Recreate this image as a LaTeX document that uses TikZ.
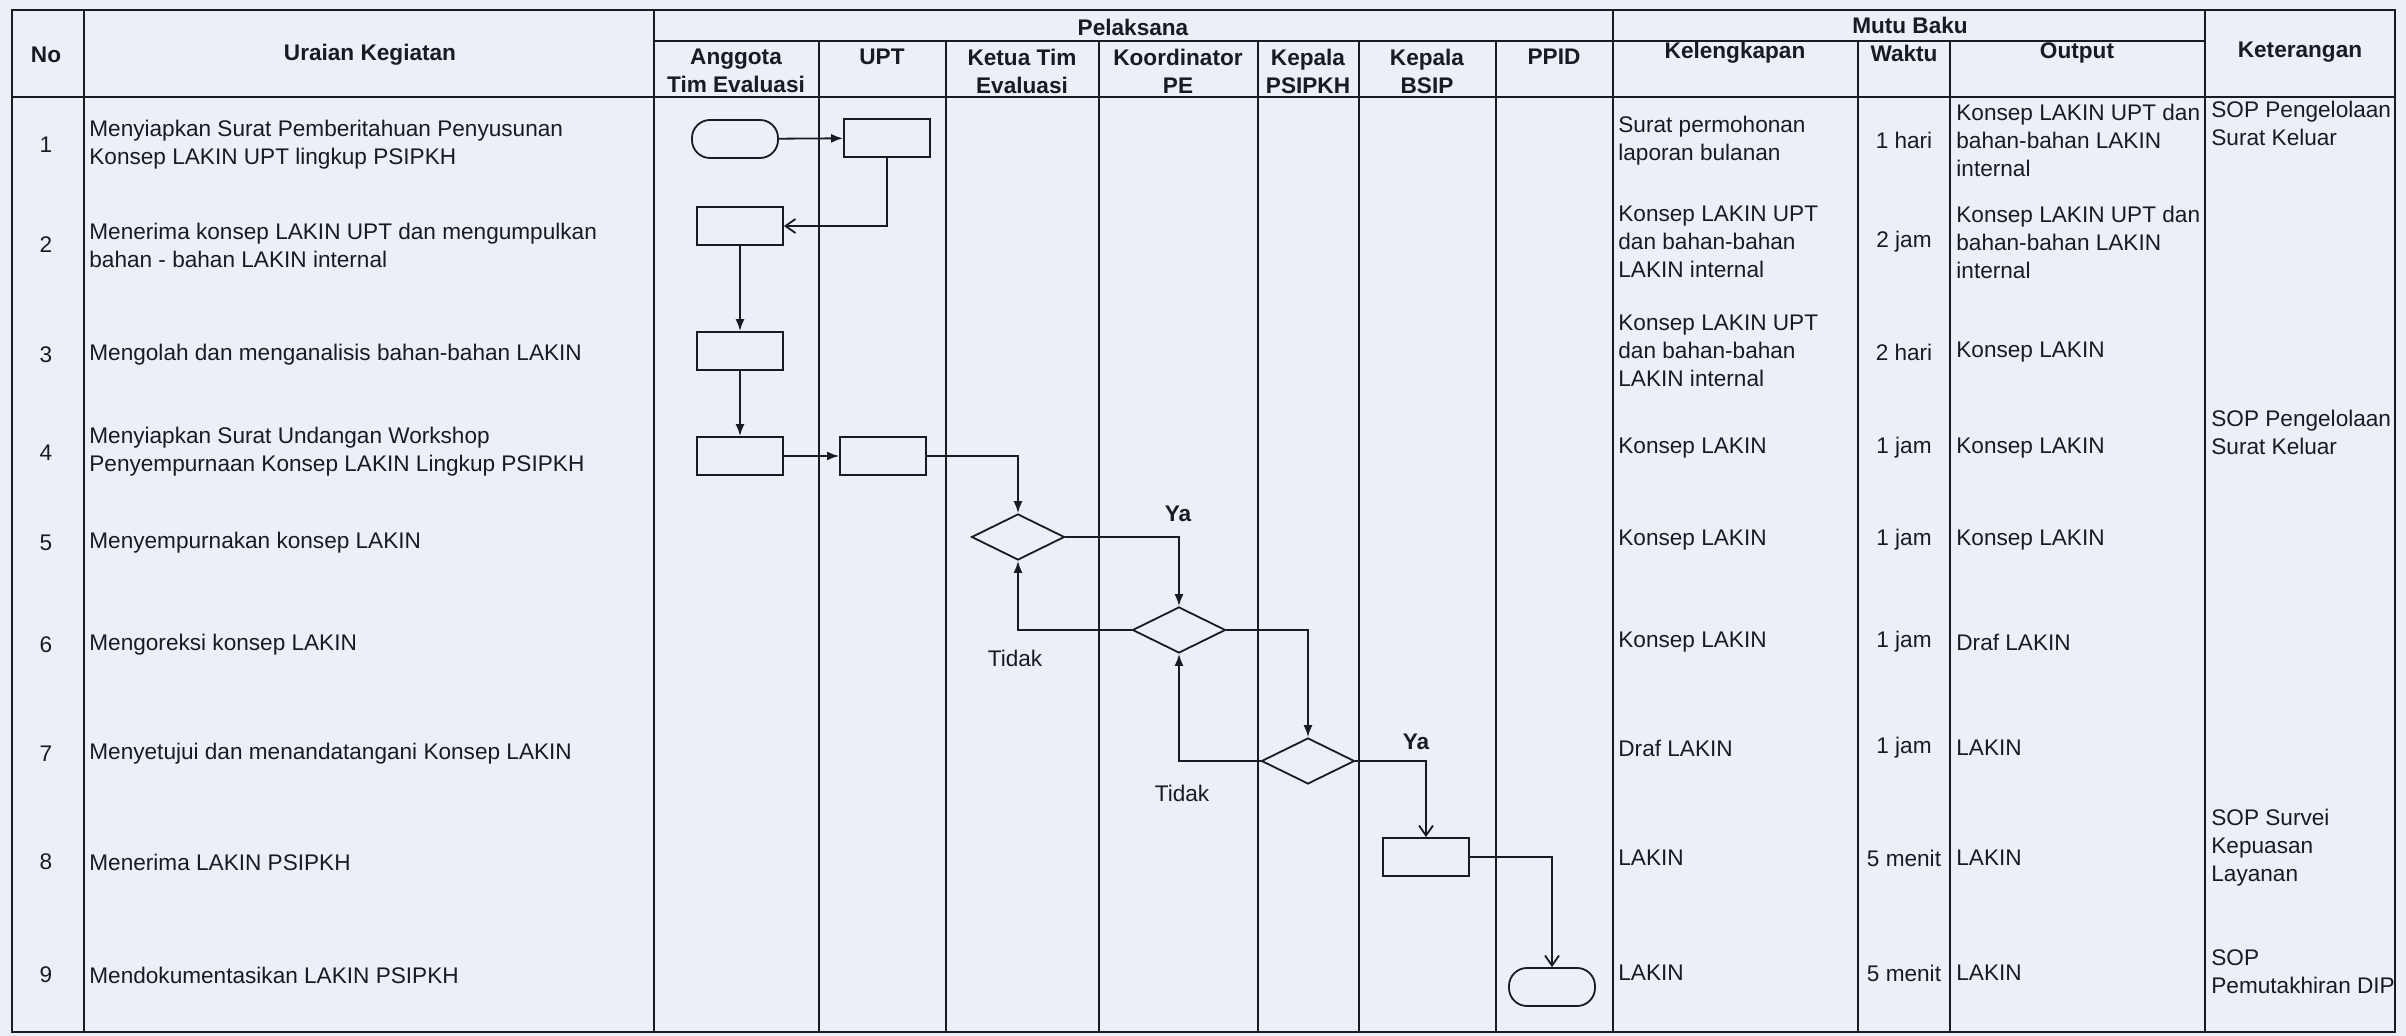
\documentclass[tikz,border=0pt]{standalone}
\usepackage{fontspec}
\setmainfont{Liberation Sans}
\usepackage{tikz}
\usetikzlibrary{arrows.meta,shapes.geometric,positioning}

\definecolor{paper}{RGB}{236,239,246}
\definecolor{ink}{RGB}{24,27,38}

\tikzset{
  txt/.style={inner sep=0pt, font=\fontsize{11.3}{14}\selectfont, text=ink, align=left},
  hd/.style={inner sep=0pt, font=\fontsize{11.3}{14}\selectfont\bfseries, text=ink, align=center},
  tabline/.style={draw=ink, line width=1.2pt},
  box/.style={draw=ink, line width=0.9pt, minimum width=43pt, minimum height=19pt, inner sep=0pt},
  term/.style={box, rounded corners=9pt},
  dec/.style={draw=ink, line width=0.9pt, diamond, minimum width=46.5pt, minimum height=23pt, inner sep=0pt},
  flow/.style={draw=ink, line width=0.9pt, -{Latex[length=6pt,width=4.5pt]}},
  flowv/.style={draw=ink, line width=0.9pt, -{Straight Barb[length=5pt,width=7pt]}}
}

\begin{document}
\begin{tikzpicture}[x=0.5pt,y=-0.5pt]
\useasboundingbox (0,0) rectangle (2406,1036);
\fill[paper] (0,0) rectangle (2406,1036);

% table frame
\draw[tabline] (12,10) rectangle (2395,1032);
\draw[tabline] (12,97) -- (2395,97);
\draw[tabline] (654,41) -- (2205,41);
\foreach \x in {84,654,1613,2205} \draw[tabline] (\x,10) -- (\x,1032);
\foreach \x in {819,946,1099,1258,1359,1496,1858,1950} \draw[tabline] (\x,41) -- (\x,1032);

% header
\node[hd] (hno) at (46,55) {No};
\node[hd] (hur) at (370,55) {Uraian Kegiatan};
\node[hd] (hpel) at (1133,27) {Pelaksana};
\node[hd] (hmutu) at (1910,25) {Mutu Baku};
\node[hd] (hang) at (736,71) {Anggota\\Tim Evaluasi};
\node[hd] (hupt) at (882,57) {UPT};
\node[hd] (hketua) at (1022,71) {Ketua Tim\\Evaluasi};
\node[hd] (hkoor) at (1178,71) {Koordinator\\PE};
\node[hd] (hpsi) at (1308,71) {Kepala\\PSIPKH};
\node[hd] (hbsip) at (1427,71) {Kepala\\BSIP};
\node[hd] (hppid) at (1554,57) {PPID};
\node[hd] (hkel) at (1735,53) {Kelengkapan};
\node[hd] (hwkt) at (1904,53) {Waktu};
\node[hd] (hout) at (2077,53) {Output};
\node[hd] (hketr) at (2300,52) {Keterangan};

% nomor dan waktu
\foreach \n/\y in {1/145,2/245,3/355,4/453,5/543,6/645,7/754,8/862,9/975}
  \node[txt] (no\n) at (46,\y) {\n};
\foreach \n/\y/\t in {1/140/1 hari,2/242/2 jam,3/352/2 hari,4/448/1 jam,5/540/1 jam,6/642/1 jam,7/748/1 jam,8/858/5 menit,9/973/5 menit}
  \node[txt] (wkt\n) at (1904,\y) {\t};

% uraian kegiatan
\node[txt, anchor=west] (ur1) at (89,145) {Menyiapkan Surat Pemberitahuan Penyusunan\\Konsep LAKIN UPT lingkup PSIPKH};
\node[txt, anchor=west] (ur2) at (89,245) {Menerima konsep LAKIN UPT dan mengumpulkan\\bahan - bahan LAKIN internal};
\node[txt, anchor=west] (ur3) at (89,355) {Mengolah dan menganalisis bahan-bahan LAKIN};
\node[txt, anchor=west] (ur4) at (89,452) {Menyiapkan Surat Undangan Workshop\\Penyempurnaan Konsep LAKIN Lingkup PSIPKH};
\node[txt, anchor=west] (ur5) at (89,543) {Menyempurnakan konsep LAKIN};
\node[txt, anchor=west] (ur6) at (89,645) {Mengoreksi konsep LAKIN};
\node[txt, anchor=west] (ur7) at (89,754) {Menyetujui dan menandatangani Konsep LAKIN};
\node[txt, anchor=west] (ur8) at (89,862) {Menerima LAKIN PSIPKH};
\node[txt, anchor=west] (ur9) at (89,975) {Mendokumentasikan LAKIN PSIPKH};

% kelengkapan
\node[txt, anchor=west] (kel1) at (1618,141) {Surat permohonan\\laporan bulanan};
\node[txt, anchor=west] (kel2) at (1618,242) {Konsep LAKIN UPT\\dan bahan-bahan\\LAKIN internal};
\node[txt, anchor=west] (kel3) at (1618,351) {Konsep LAKIN UPT\\dan bahan-bahan\\LAKIN internal};
\node[txt, anchor=west] (kel4) at (1618,448) {Konsep LAKIN};
\node[txt, anchor=west] (kel5) at (1618,540) {Konsep LAKIN};
\node[txt, anchor=west] (kel6) at (1618,642) {Konsep LAKIN};
\node[txt, anchor=west] (kel7) at (1618,748) {Draf LAKIN};
\node[txt, anchor=west] (kel8) at (1618,858) {LAKIN};
\node[txt, anchor=west] (kel9) at (1618,973) {LAKIN};

% output
\node[txt, anchor=west] (out1) at (1956,140) {Konsep LAKIN UPT dan\\bahan-bahan LAKIN\\internal};
\node[txt, anchor=west] (out2) at (1956,242) {Konsep LAKIN UPT dan\\bahan-bahan LAKIN\\internal};
\node[txt, anchor=west] (out3) at (1956,352) {Konsep LAKIN};
\node[txt, anchor=west] (out4) at (1956,448) {Konsep LAKIN};
\node[txt, anchor=west] (out5) at (1956,540) {Konsep LAKIN};
\node[txt, anchor=west] (out6) at (1956,642) {Draf LAKIN};
\node[txt, anchor=west] (out7) at (1956,748) {LAKIN};
\node[txt, anchor=west] (out8) at (1956,858) {LAKIN};
\node[txt, anchor=west] (out9) at (1956,973) {LAKIN};

% keterangan
\node[txt, anchor=west] (ket1) at (2211,123) {SOP Pengelolaan\\Surat Keluar};
\node[txt, anchor=west] (ket4) at (2211,432) {SOP Pengelolaan\\Surat Keluar};
\node[txt, anchor=west] (ket8) at (2211,848) {SOP Survei\\Kepuasan\\Layanan};
\node[txt, anchor=west] (ket9) at (2211,972) {SOP\\Pemutakhiran DIP};

% bagan alir
\node[term] (t1) at (735,139) {};
\node[box] (r1) at (887,138) {};
\node[box] (r2) at (740,226) {};
\node[box] (r3) at (740,351) {};
\node[box] (r4) at (740,456) {};
\node[box] (r4u) at (883,456) {};
\node[dec] (d5) at (1018,537) {};
\node[dec] (d6) at (1179,630) {};
\node[dec] (d7) at (1308,761) {};
\node[box] (r8) at (1426,857) {};
\node[term] (t9) at (1552,987) {};

\draw[flow] (t1) -- (r1);
\draw[flowv] (r1.south) |- (r2.east);
\draw[flow] (r2) -- (r3);
\draw[flow] (r3) -- (r4);
\draw[flow] (r4) -- (r4u);
\draw[flow] (r4u.east) -| (d5.north);
\draw[flow] (d5.east) -| (d6.north);
\draw[flow] (d6.west) -| (d5.south);
\draw[flow] (d6.east) -| (d7.north);
\draw[flow] (d7.west) -| (d6.south);
\draw[flowv] (d7.east) -| (r8.north);
\draw[flowv] (r8.east) -| (t9.north);

\node[hd] (ya5) at (1178,514) {Ya};
\node[txt] (tdk6) at (1015,658) {Tidak};
\node[txt] (tdk7) at (1182,793) {Tidak};
\node[hd] (ya7) at (1416,742) {Ya};
\end{tikzpicture}
\end{document}
